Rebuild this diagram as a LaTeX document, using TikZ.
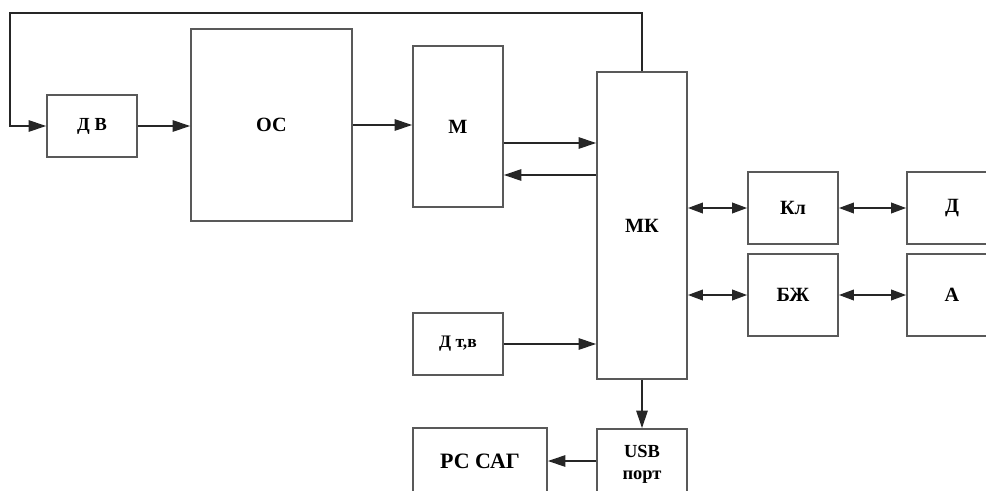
\documentclass[tikz,border=0pt]{standalone}
\usepackage{fontspec}
\setmainfont{Liberation Serif}
\usepackage{tikz}
\usetikzlibrary{arrows.meta,calc}

\begin{document}
\begin{tikzpicture}[x=0.02cm,y=-0.02cm,
  blok/.style={draw=black!65,line width=1pt,inner sep=0pt,font=\bfseries\fontsize{11.5}{13}\selectfont},
  strl/.style={draw=black!85,line width=1pt,-{Triangle[length=10pt,width=6.5pt]}},
  dstrl/.style={draw=black!85,line width=1pt,{Triangle[length=8.5pt,width=6pt]}-{Triangle[length=8.5pt,width=6pt]}}]
  \useasboundingbox (0,0) rectangle (986,490);
  \clip (0,0) rectangle (986,490);
  % блоки
  \node[blok,minimum width=1.8cm,minimum height=1.24cm,font=\bfseries\fontsize{10.5}{12}\selectfont] (dv) at (92,126) {Д В};
  \node[blok,minimum width=3.22cm,minimum height=3.84cm] (os) at (271.5,125) {ОС};
  \node[blok,minimum width=1.8cm,minimum height=3.22cm] (m) at (458,126.5) {М};
  \node[blok,minimum width=1.8cm,minimum height=6.14cm] (mk) at (642,225.5) {МК};
  \node[blok,minimum width=1.8cm,minimum height=1.44cm] (kl) at (793,208) {Кл};
  \node[blok,minimum width=1.8cm,minimum height=1.44cm] (d) at (952,208) {Д};
  \node[blok,minimum width=1.8cm,minimum height=1.64cm] (bzh) at (793,295) {БЖ};
  \node[blok,minimum width=1.8cm,minimum height=1.64cm] (a) at (952,295) {А};
  \node[blok,minimum width=1.8cm,minimum height=1.24cm,font=\bfseries\fontsize{10}{11}\selectfont] (dtv) at (458,344) {Д т,в};
  \node[blok,minimum width=1.8cm,minimum height=1.4cm,align=center,font=\bfseries\fontsize{10.5}{12.5}\selectfont] (usb) at (642,464) {USB\\порт};
  \node[blok,minimum width=2.68cm,minimum height=1.32cm,font=\bfseries\fontsize{12.5}{14}\selectfont] (pc) at (480,461) {РС САГ};
  % вспомогательные точки
  \coordinate (fb) at (10,13);
  \coordinate (h1) at (0,143);
  \coordinate (h2) at (0,175);
  % связи
  \draw[strl] (mk.north) |- (fb) |- (dv.west);
  \draw[strl] (dv.east) -- (dv.east -| os.west);
  \draw[strl] (os.east) -- (os.east -| m.west);
  \draw[strl] (m.east |- h1) -- (mk.west |- h1);
  \draw[strl] (mk.west |- h2) -- (m.east |- h2);
  \draw[dstrl] (mk.east |- kl.west) -- (kl.west);
  \draw[dstrl] (kl.east) -- (d.west);
  \draw[dstrl] (mk.east |- bzh.west) -- (bzh.west);
  \draw[dstrl] (bzh.east) -- (a.west);
  \draw[strl] (dtv.east) -- (dtv.east -| mk.west);
  \draw[strl] (mk.south) -- (usb.north);
  \draw[strl] (usb.west |- pc.east) -- (pc.east);
\end{tikzpicture}
\end{document}
